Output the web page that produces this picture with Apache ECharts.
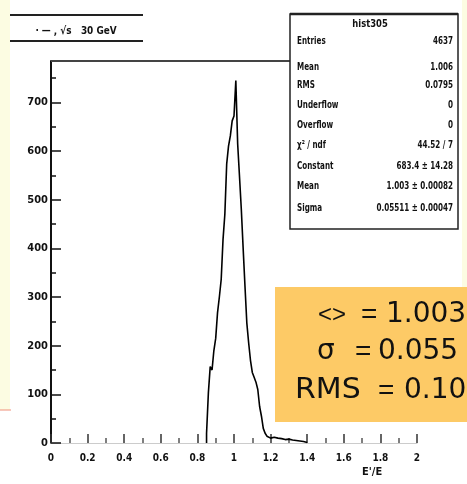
<!DOCTYPE html>
<html>
<head>
<meta charset="utf-8">
<script src="https://cdn.jsdelivr.net/npm/echarts@6/dist/echarts.min.js"></script>
<style>
html, body { margin: 0; padding: 0; background: #fff; }
#main { width: 467px; height: 484px; }
</style>
</head>
<body>
<div id="main"></div>
<script>
// histogram, bins of 0.01, first bin starts at 0.85
var binStart = 0.85;
var binWidth = 0.01;
var counts = [
  20, 103, 157, 150, 190, 215, 268, 300, 336, 418,
  470, 573, 610, 631, 662, 672, 745, 615, 548, 480,
  400, 322, 247, 206, 170, 145, 135, 125, 110, 75,
  55, 30, 20, 14, 10, 9, 12, 14, 10, 8,
  9, 11, 7, 6, 8, 5, 6, 4, 5, 3,
  4, 2, 3, 2, 1
];

var xTickLabels = ['0', '0.2', '0.4', '0.6', '0.8', '1', '1.2', '1.4', '1.6', '1.8', '2'];

var statsTitle = 'hist305';
var statsLabels = ['Entries', 'Mean', 'RMS', 'Underflow', 'Overflow', 'χ² / ndf', 'Constant', 'Mean', 'Sigma'];
var statsValues = ['4637', '1.006', '0.0795', '0', '0', '44.52 / 7', '683.4 ± 14.28', '1.003 ± 0.00082', '0.05511 ± 0.00047'];
var statsRowY = [41, 67, 85, 105, 125, 145, 166, 186, 208];

// orange box: symbol, "=", value
var boxNames = ['<>', 'σ', 'RMS'];
var boxValues = ['1.003', '0.055', '0.10'];
var boxNameX = [318, 317, 295];
var boxEqX = [361, 355, 378];
var boxValueX = [386, 378, 404];
var boxLineY = [315, 352, 391];

var titleText = '· — , √s   30 GeV';

// step outline points
var pts = [[binStart, 0]];
for (var i = 0; i < counts.length; i++) {
  pts.push([+(binStart + i * binWidth).toFixed(2), counts[i]]);
}
pts.push([+(binStart + counts.length * binWidth).toFixed(2), 0]);

var smallFont = "'DejaVu Sans Condensed', 'DejaVu Sans', sans-serif";
var bigFont = "28px 'DejaVu Sans', sans-serif";
var eqFont = "28px 'Liberation Sans', sans-serif";

var graphics = [
  // slide background strips
  { type: 'rect', shape: { x: 0, y: 0, width: 10, height: 410 }, style: { fill: '#fcfce2' }, z: 0 },
  { type: 'line', shape: { x1: 0, y1: 410, x2: 11, y2: 410 }, style: { stroke: '#f0907a', lineWidth: 1 }, z: 0 },
  { type: 'rect', shape: { x: 462, y: 0, width: 5, height: 287 }, style: { fill: '#fcfce2' }, z: 0 },
  // frame top
  { type: 'line', shape: { x1: 51, y1: 61, x2: 290, y2: 61 }, style: { stroke: '#444', lineWidth: 2 }, z: 5 },
  // title box
  { type: 'line', shape: { x1: 10, y1: 15, x2: 143, y2: 15 }, style: { stroke: '#222', lineWidth: 2 }, z: 5 },
  { type: 'line', shape: { x1: 10, y1: 41, x2: 143, y2: 41 }, style: { stroke: '#222', lineWidth: 2 }, z: 5 },
  { type: 'text', x: 76, y: 31, scaleX: 0.9, style: { text: titleText, fill: '#111', font: 'bold 11px ' + smallFont, textAlign: 'center', textVerticalAlign: 'middle' }, z: 5 },
  // stats box
  { type: 'rect', shape: { x: 290, y: 14, width: 168, height: 215 }, style: { fill: '#fff', stroke: '#222', lineWidth: 1.5 }, z: 10 },
  { type: 'line', shape: { x1: 290, y1: 14, x2: 458, y2: 14 }, style: { stroke: '#222', lineWidth: 2.5 }, z: 11 },
  { type: 'text', x: 370, y: 24, scaleX: 0.85, style: { text: statsTitle, fill: '#111', font: 'bold 11px ' + smallFont, textAlign: 'center', textVerticalAlign: 'middle' }, z: 11 },
  // orange box
  { type: 'rect', shape: { x: 275, y: 287, width: 200, height: 135 }, style: { fill: '#fdca66' }, z: 10 },
  // x-axis title fragment
  { type: 'text', x: 362, y: 472, style: { text: "E'/E", fill: '#111', font: 'bold 11px ' + smallFont, textVerticalAlign: 'middle' }, z: 5 }
];

for (var r = 0; r < statsLabels.length; r++) {
  graphics.push({ type: 'text', x: 297, y: statsRowY[r], scaleX: 0.8, style: { text: statsLabels[r], fill: '#111', font: 'bold 10px ' + smallFont, textVerticalAlign: 'middle' }, z: 11 });
  graphics.push({ type: 'text', x: 453, y: statsRowY[r], scaleX: 0.8, style: { text: statsValues[r], fill: '#111', font: 'bold 10px ' + smallFont, textAlign: 'right', textVerticalAlign: 'middle' }, z: 11 });
}
for (var k = 0; k < boxNames.length; k++) {
  graphics.push({ type: 'text', x: boxNameX[k], y: boxLineY[k], scaleX: k === 2 ? 1.07 : 1, style: { text: boxNames[k], fill: '#111', font: k === 0 ? "24px 'Liberation Sans', sans-serif" : bigFont, textVerticalAlign: 'middle' }, z: 11 });
  graphics.push({ type: 'text', x: boxEqX[k], y: boxLineY[k], style: { text: '=', fill: '#111', font: eqFont, textVerticalAlign: 'middle' }, z: 11 });
  graphics.push({ type: 'text', x: boxValueX[k], y: boxLineY[k], style: { text: boxValues[k], fill: '#111', font: bigFont, textVerticalAlign: 'middle' }, z: 11 });
}

var chart = echarts.init(document.getElementById('main'), null, { renderer: 'canvas' });
chart.setOption({
  backgroundColor: '#fff',
  animation: false,
  grid: { left: 51, right: 50, top: 61, bottom: 41 },
  xAxis: {
    type: 'value', min: 0, max: 2, interval: 0.2,
    axisLine: { show: true, lineStyle: { color: '#ccc', width: 1 } },
    axisTick: { show: true, inside: true, length: 9, lineStyle: { color: '#333', width: 1.5 } },
    minorTick: { show: true, splitNumber: 2, length: 5, lineStyle: { color: '#555', width: 1.5 } },
    axisLabel: {
      margin: 10, color: '#111', fontSize: 10, fontWeight: 'bold', fontFamily: smallFont,
      formatter: function (v) { return xTickLabels[Math.round(v / 0.2)]; }
    },
    splitLine: { show: false }
  },
  yAxis: {
    type: 'value', min: 0, max: 785, interval: 100,
    axisLine: { show: true, lineStyle: { color: '#111', width: 2 } },
    axisTick: { show: true, inside: true, length: 10, lineStyle: { color: '#111', width: 1.5 } },
    minorTick: { show: true, splitNumber: 2, length: 5, lineStyle: { color: '#111', width: 1.5 } },
    axisLabel: { margin: 3, color: '#111', fontSize: 11, fontWeight: 'bold', fontFamily: smallFont, showMaxLabel: false },
    splitLine: { show: false }
  },
  series: [{
    type: 'line',
    step: 'end',
    data: pts,
    symbol: 'none',
    lineStyle: { color: '#000', width: 1.6 },
    z: 3
  }],
  graphic: graphics
});
</script>
</body>
</html>
